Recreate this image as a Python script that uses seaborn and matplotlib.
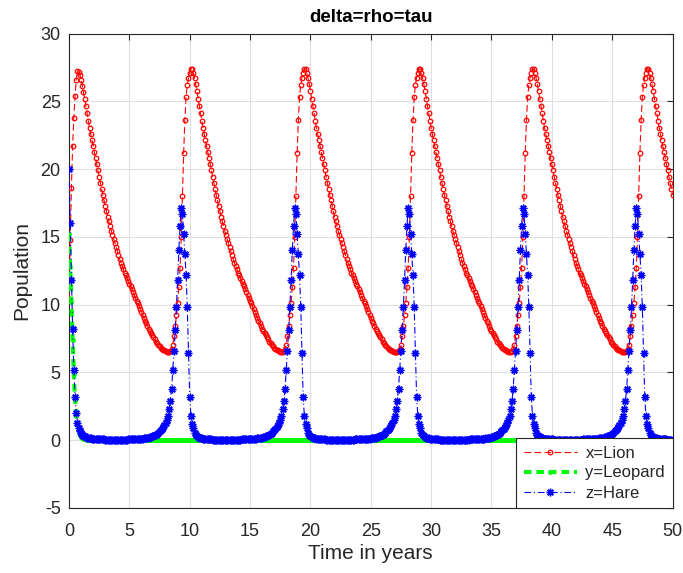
import numpy as np
import pandas as pd
import matplotlib
matplotlib.use("Agg")
import matplotlib.pyplot as plt
import seaborn as sns

# ---------------- data ----------------
time_years = np.round(np.arange(501) * 0.1, 1)  # solver output grid, 0 .. 50 years

lion = [
    # t 0.0 - 0.6
    10.3, 14.8, 18.6, 21.7, 23.8, 25.4, 26.6,
    # t 0.7 - 10.0
    27.2, 27.15, 26.95, 26.6, 26.15, 25.65, 25.2, 24.65, 24.1, 23.55,
    23.05, 22.6, 22.15, 21.7, 21.25, 20.8, 20.35, 19.9, 19.45, 19.0,
    18.55, 18.1, 17.7, 17.3, 16.9, 16.5, 16.15, 15.8, 15.45, 15.15,
    14.85, 14.55, 14.25, 13.95, 13.65, 13.35, 13.1, 12.85, 12.6, 12.35,
    12.15, 11.95, 11.75, 11.55, 11.35, 11.15, 10.9, 10.7, 10.5, 10.3,
    10.1, 9.88, 9.66, 9.45, 9.24, 9.04, 8.83, 8.62, 8.42, 8.22,
    8.05, 7.9, 7.76, 7.6, 7.44, 7.28, 7.15, 7.03, 6.92, 6.83,
    6.75, 6.68, 6.62, 6.57, 6.53, 6.5, 6.5, 6.55, 6.7,
    7.05, 7.7, 8.4, 9.2, 10.1, 11.3, 12.7, 15.0, 18.0, 21.2,
    23.6, 25.3, 26.2, 26.75, 27.1,
    # t 10.1 - 19.4
    27.4, 27.35, 27.1, 26.7, 26.25, 25.75, 25.2, 24.65, 24.1, 23.55,
    23.05, 22.6, 22.15, 21.7, 21.25, 20.8, 20.35, 19.9, 19.45, 19.0,
    18.55, 18.1, 17.7, 17.3, 16.9, 16.5, 16.15, 15.8, 15.45, 15.15,
    14.85, 14.55, 14.25, 13.95, 13.65, 13.35, 13.1, 12.85, 12.6, 12.35,
    12.15, 11.95, 11.75, 11.55, 11.35, 11.15, 10.9, 10.7, 10.5, 10.3,
    10.1, 9.88, 9.66, 9.45, 9.24, 9.04, 8.83, 8.62, 8.42, 8.22,
    8.05, 7.9, 7.76, 7.6, 7.44, 7.28, 7.15, 7.03, 6.92, 6.83,
    6.75, 6.68, 6.62, 6.57, 6.53, 6.5, 6.5, 6.55, 6.7,
    7.05, 7.7, 8.4, 9.2, 10.1, 11.3, 12.7, 15.0, 18.0, 21.2,
    23.6, 25.3, 26.2, 26.75, 27.1,
    # t 19.5 - 28.9
    27.4, 27.35, 27.1, 26.7, 26.25, 25.75, 25.2, 24.65, 24.1, 23.55,
    23.05, 22.6, 22.15, 21.7, 21.25, 20.8, 20.35, 19.9, 19.45, 19.0,
    18.55, 18.1, 17.7, 17.3, 16.9, 16.5, 16.15, 15.8, 15.45, 15.15,
    14.85, 14.55, 14.25, 13.95, 13.65, 13.35, 13.1, 12.85, 12.6, 12.35,
    12.15, 11.95, 11.75, 11.55, 11.35, 11.15, 10.9, 10.7, 10.5, 10.3,
    10.1, 9.88, 9.66, 9.45, 9.24, 9.04, 8.83, 8.62, 8.42, 8.22,
    8.05, 7.9, 7.76, 7.6, 7.44, 7.28, 7.15, 7.03, 6.92, 6.83,
    6.75, 6.68, 6.62, 6.57, 6.53, 6.5, 6.49, 6.5, 6.55, 6.7,
    7.05, 7.7, 8.4, 9.2, 10.1, 11.3, 12.7, 15.0, 18.0, 21.2,
    23.6, 25.3, 26.2, 26.75, 27.1,
    # t 29.0 - 38.3
    27.4, 27.35, 27.1, 26.7, 26.25, 25.75, 25.2, 24.65, 24.1, 23.55,
    23.05, 22.6, 22.15, 21.7, 21.25, 20.8, 20.35, 19.9, 19.45, 19.0,
    18.55, 18.1, 17.7, 17.3, 16.9, 16.5, 16.15, 15.8, 15.45, 15.15,
    14.85, 14.55, 14.25, 13.95, 13.65, 13.35, 13.1, 12.85, 12.6, 12.35,
    12.15, 11.95, 11.75, 11.55, 11.35, 11.15, 10.9, 10.7, 10.5, 10.3,
    10.1, 9.88, 9.66, 9.45, 9.24, 9.04, 8.83, 8.62, 8.42, 8.22,
    8.05, 7.9, 7.76, 7.6, 7.44, 7.28, 7.15, 7.03, 6.92, 6.83,
    6.75, 6.68, 6.62, 6.57, 6.53, 6.5, 6.5, 6.55, 6.7,
    7.05, 7.7, 8.4, 9.2, 10.1, 11.3, 12.7, 15.0, 18.0, 21.2,
    23.6, 25.3, 26.2, 26.75, 27.1,
    # t 38.4 - 47.8
    27.4, 27.35, 27.1, 26.7, 26.25, 25.75, 25.2, 24.65, 24.1, 23.55,
    23.05, 22.6, 22.15, 21.7, 21.25, 20.8, 20.35, 19.9, 19.45, 19.0,
    18.55, 18.1, 17.7, 17.3, 16.9, 16.5, 16.15, 15.8, 15.45, 15.15,
    14.85, 14.55, 14.25, 13.95, 13.65, 13.35, 13.1, 12.85, 12.6, 12.35,
    12.15, 11.95, 11.75, 11.55, 11.35, 11.15, 10.9, 10.7, 10.5, 10.3,
    10.1, 9.88, 9.66, 9.45, 9.24, 9.04, 8.83, 8.62, 8.42, 8.22,
    8.05, 7.9, 7.76, 7.6, 7.44, 7.28, 7.15, 7.03, 6.92, 6.83,
    6.75, 6.68, 6.62, 6.57, 6.53, 6.5, 6.49, 6.5, 6.55, 6.7,
    7.05, 7.7, 8.4, 9.2, 10.1, 11.3, 12.7, 15.0, 18.0, 21.2,
    23.6, 25.3, 26.2, 26.75, 27.1,
    # t 47.9 - 50.0
    27.4, 27.35, 27.1, 26.7, 26.25, 25.75, 25.2, 24.65, 24.1, 23.55,
    23.05, 22.6, 22.15, 21.7, 21.25, 20.8, 20.35, 19.9, 19.45, 19.0,
    18.55, 18.1,
]

leopard = [
    # t 0.0 - 1.9
    15.2, 12.8, 10.2, 7.4, 4.9, 3.0, 1.8, 1.1, 0.65, 0.4,
    0.25, 0.16, 0.11, 0.08, 0.06, 0.05, 0.04, 0.03, 0.03, 0.02,
    # t 2.0 - 50.0
    0.02, 0.02, 0.02, 0.02, 0.02, 0.02, 0.02, 0.02, 0.02, 0.02, 0.02, 0.02, 0.02, 0.02, 0.02, 0.02, 0.02, 0.02, 0.02, 0.02,
    0.02, 0.02, 0.02, 0.02, 0.02, 0.02, 0.02, 0.02, 0.02, 0.02, 0.02, 0.02, 0.02, 0.02, 0.02, 0.02, 0.02, 0.02, 0.02, 0.02,
    0.01, 0.01, 0.01, 0.01, 0.01, 0.01, 0.01, 0.01, 0.01, 0.01, 0.01, 0.01, 0.01, 0.01, 0.01, 0.01, 0.01, 0.01, 0.01, 0.01,
    0.01, 0.01, 0.01, 0.01, 0.01, 0.01, 0.01, 0.01, 0.01, 0.01, 0.01, 0.01, 0.01, 0.01, 0.01, 0.01, 0.01, 0.01, 0.01, 0.01,
    0.01, 0.01, 0.01, 0.01, 0.01, 0.01, 0.01, 0.01, 0.01, 0.01, 0.01, 0.01, 0.01, 0.01, 0.01, 0.01, 0.01, 0.01, 0.01, 0.01,
    0.01, 0.01, 0.01, 0.01, 0.01, 0.01, 0.01, 0.01, 0.01, 0.01, 0.01, 0.01, 0.01, 0.01, 0.01, 0.01, 0.01, 0.01, 0.01, 0.01,
    0.01, 0.01, 0.01, 0.01, 0.01, 0.01, 0.01, 0.01, 0.01, 0.01, 0.01, 0.01, 0.01, 0.01, 0.01, 0.01, 0.01, 0.01, 0.01, 0.01,
    0.0, 0.0, 0.0, 0.0, 0.0, 0.0, 0.0, 0.0, 0.0, 0.0, 0.0, 0.0, 0.0, 0.0, 0.0, 0.0, 0.0, 0.0, 0.0, 0.0,
    0.0, 0.0, 0.0, 0.0, 0.0, 0.0, 0.0, 0.0, 0.0, 0.0, 0.0, 0.0, 0.0, 0.0, 0.0, 0.0, 0.0, 0.0, 0.0, 0.0,
    0.0, 0.0, 0.0, 0.0, 0.0, 0.0, 0.0, 0.0, 0.0, 0.0, 0.0, 0.0, 0.0, 0.0, 0.0, 0.0, 0.0, 0.0, 0.0, 0.0,
    0.0, 0.0, 0.0, 0.0, 0.0, 0.0, 0.0, 0.0, 0.0, 0.0, 0.0, 0.0, 0.0, 0.0, 0.0, 0.0, 0.0, 0.0, 0.0, 0.0,
    0.0, 0.0, 0.0, 0.0, 0.0, 0.0, 0.0, 0.0, 0.0, 0.0, 0.0, 0.0, 0.0, 0.0, 0.0, 0.0, 0.0, 0.0, 0.0, 0.0,
    0.0, 0.0, 0.0, 0.0, 0.0, 0.0, 0.0, 0.0, 0.0, 0.0, 0.0, 0.0, 0.0, 0.0, 0.0, 0.0, 0.0, 0.0, 0.0, 0.0,
    0.0, 0.0, 0.0, 0.0, 0.0, 0.0, 0.0, 0.0, 0.0, 0.0, 0.0, 0.0, 0.0, 0.0, 0.0, 0.0, 0.0, 0.0, 0.0, 0.0,
    0.0, 0.0, 0.0, 0.0, 0.0, 0.0, 0.0, 0.0, 0.0, 0.0, 0.0, 0.0, 0.0, 0.0, 0.0, 0.0, 0.0, 0.0, 0.0, 0.0,
    0.0, 0.0, 0.0, 0.0, 0.0, 0.0, 0.0, 0.0, 0.0, 0.0, 0.0, 0.0, 0.0, 0.0, 0.0, 0.0, 0.0, 0.0, 0.0, 0.0,
    0.0, 0.0, 0.0, 0.0, 0.0, 0.0, 0.0, 0.0, 0.0, 0.0, 0.0, 0.0, 0.0, 0.0, 0.0, 0.0, 0.0, 0.0, 0.0, 0.0,
    0.0, 0.0, 0.0, 0.0, 0.0, 0.0, 0.0, 0.0, 0.0, 0.0, 0.0, 0.0, 0.0, 0.0, 0.0, 0.0, 0.0, 0.0, 0.0, 0.0,
    0.0, 0.0, 0.0, 0.0, 0.0, 0.0, 0.0, 0.0, 0.0, 0.0, 0.0, 0.0, 0.0, 0.0, 0.0, 0.0, 0.0, 0.0, 0.0, 0.0,
    0.0, 0.0, 0.0, 0.0, 0.0, 0.0, 0.0, 0.0, 0.0, 0.0, 0.0, 0.0, 0.0, 0.0, 0.0, 0.0, 0.0, 0.0, 0.0, 0.0,
    0.0, 0.0, 0.0, 0.0, 0.0, 0.0, 0.0, 0.0, 0.0, 0.0, 0.0, 0.0, 0.0, 0.0, 0.0, 0.0, 0.0, 0.0, 0.0, 0.0,
    0.0, 0.0, 0.0, 0.0, 0.0, 0.0, 0.0, 0.0, 0.0, 0.0, 0.0, 0.0, 0.0, 0.0, 0.0, 0.0, 0.0, 0.0, 0.0, 0.0,
    0.0, 0.0, 0.0, 0.0, 0.0, 0.0, 0.0, 0.0, 0.0, 0.0, 0.0, 0.0, 0.0, 0.0, 0.0, 0.0, 0.0, 0.0, 0.0, 0.0,
    0.0, 0.0, 0.0, 0.0, 0.0, 0.0, 0.0, 0.0, 0.0, 0.0, 0.0, 0.0, 0.0, 0.0, 0.0, 0.0, 0.0, 0.0, 0.0, 0.0,
    0.0,
]

hare = [
    # t 0.0 - 0.6
    20.0, 16.0, 11.8, 8.2, 5.2, 3.2, 2.0,
    # t 0.7 - 10.0
    1.3, 0.9, 0.65, 0.5, 0.4, 0.33, 0.28, 0.24, 0.2, 0.17,
    0.15, 0.13, 0.12, 0.11, 0.1, 0.09, 0.08, 0.08, 0.07, 0.07,
    0.06, 0.06, 0.06, 0.05, 0.05, 0.05, 0.05, 0.05, 0.05, 0.05,
    0.05, 0.05, 0.05, 0.05, 0.05, 0.05, 0.05, 0.05, 0.05, 0.05,
    0.05, 0.05, 0.06, 0.06, 0.06, 0.06, 0.07, 0.07, 0.08, 0.08,
    0.09, 0.1, 0.1, 0.11, 0.12, 0.13, 0.15, 0.16, 0.18, 0.2,
    0.22, 0.25, 0.28, 0.32, 0.36, 0.4, 0.45, 0.55, 0.65, 0.75,
    0.85, 0.95, 1.1, 1.3, 1.5, 1.8, 2.3, 2.9, 3.8, 5.2,
    6.6, 8.1, 9.8, 11.8, 14.0, 15.8, 17.1, 16.7, 15.2, 13.7,
    12.2, 9.8, 6.4, 3.2,
    # t 10.1 - 19.4
    1.8, 1.2, 0.9, 0.55, 0.4, 0.3, 0.25, 0.2, 0.17, 0.14,
    0.12, 0.1, 0.09, 0.08, 0.07, 0.07, 0.06, 0.06, 0.05, 0.05,
    0.05, 0.05, 0.05, 0.05, 0.05, 0.05, 0.05, 0.05, 0.05, 0.05,
    0.05, 0.05, 0.05, 0.05, 0.05, 0.05, 0.05, 0.05, 0.05, 0.05,
    0.05, 0.05, 0.06, 0.06, 0.06, 0.06, 0.07, 0.07, 0.08, 0.08,
    0.09, 0.1, 0.1, 0.11, 0.12, 0.13, 0.15, 0.16, 0.18, 0.2,
    0.22, 0.25, 0.28, 0.32, 0.36, 0.4, 0.45, 0.55, 0.65, 0.75,
    0.85, 0.95, 1.1, 1.3, 1.5, 1.8, 2.3, 2.9, 3.8, 5.2,
    6.6, 8.1, 9.8, 11.8, 14.0, 15.8, 17.1, 16.7, 15.2, 13.7,
    12.2, 9.8, 6.4, 3.2,
    # t 19.5 - 28.9
    1.8, 1.2, 0.9, 0.55, 0.4, 0.3, 0.25, 0.2, 0.17, 0.14,
    0.12, 0.1, 0.09, 0.08, 0.07, 0.07, 0.06, 0.06, 0.05, 0.05,
    0.05, 0.05, 0.05, 0.05, 0.05, 0.05, 0.05, 0.05, 0.05, 0.05,
    0.05, 0.05, 0.05, 0.05, 0.05, 0.05, 0.05, 0.05, 0.05, 0.05,
    0.05, 0.05, 0.06, 0.06, 0.06, 0.06, 0.07, 0.07, 0.08, 0.08,
    0.09, 0.1, 0.1, 0.11, 0.12, 0.13, 0.15, 0.16, 0.18, 0.2,
    0.22, 0.25, 0.28, 0.32, 0.36, 0.4, 0.45, 0.55, 0.65, 0.75,
    0.85, 0.95, 1.1, 1.3, 1.5, 1.8, 2.3, 2.9, 3.8, 5.2,
    6.6, 8.1, 9.8, 11.8, 14.0, 15.8, 17.1, 16.7, 15.2, 13.7,
    12.2, 9.8, 6.4, 3.2, 1.8,
    # t 29.0 - 38.3
    1.2, 0.9, 0.55, 0.4, 0.3, 0.25, 0.2, 0.17, 0.14, 0.12,
    0.1, 0.09, 0.08, 0.07, 0.07, 0.06, 0.06, 0.05, 0.05, 0.05,
    0.05, 0.05, 0.05, 0.05, 0.05, 0.05, 0.05, 0.05, 0.05, 0.05,
    0.05, 0.05, 0.05, 0.05, 0.05, 0.05, 0.05, 0.05, 0.05, 0.05,
    0.05, 0.05, 0.06, 0.06, 0.06, 0.06, 0.07, 0.07, 0.08, 0.08,
    0.09, 0.1, 0.1, 0.11, 0.12, 0.13, 0.15, 0.16, 0.18, 0.2,
    0.22, 0.25, 0.28, 0.32, 0.36, 0.4, 0.45, 0.55, 0.65, 0.75,
    0.85, 0.95, 1.1, 1.3, 1.5, 1.8, 2.3, 2.9, 3.8, 5.2,
    6.6, 8.1, 9.8, 11.8, 14.0, 15.8, 17.1, 16.7, 15.2, 13.7,
    12.2, 9.8, 6.4, 3.2,
    # t 38.4 - 47.8
    1.8, 1.2, 0.9, 0.55, 0.4, 0.3, 0.25, 0.2, 0.17, 0.14,
    0.12, 0.1, 0.09, 0.08, 0.07, 0.07, 0.06, 0.06, 0.05, 0.05,
    0.05, 0.05, 0.05, 0.05, 0.05, 0.05, 0.05, 0.05, 0.05, 0.05,
    0.05, 0.05, 0.05, 0.05, 0.05, 0.05, 0.05, 0.05, 0.05, 0.05,
    0.05, 0.05, 0.06, 0.06, 0.06, 0.06, 0.07, 0.07, 0.08, 0.08,
    0.09, 0.1, 0.1, 0.11, 0.12, 0.13, 0.15, 0.16, 0.18, 0.2,
    0.22, 0.25, 0.28, 0.32, 0.36, 0.4, 0.45, 0.55, 0.65, 0.75,
    0.85, 0.95, 1.1, 1.3, 1.5, 1.8, 2.3, 2.9, 3.8, 5.2,
    6.6, 8.1, 9.8, 11.8, 14.0, 15.8, 17.1, 16.7, 15.2, 13.7,
    12.2, 9.8, 6.4, 3.2, 1.8,
    # t 47.9 - 50.0
    1.2, 0.9, 0.55, 0.4, 0.3, 0.25, 0.2, 0.17, 0.14, 0.12,
    0.1, 0.09, 0.08, 0.07, 0.07, 0.06, 0.06, 0.05, 0.05, 0.05,
    0.05, 0.05,
]

series_labels = ["x=Lion", "y=Leopard", "z=Hare"]
x_ticks = [0, 5, 10, 15, 20, 25, 30, 35, 40, 45, 50]
y_ticks = [-5, 0, 5, 10, 15, 20, 25, 30]
title_text = "delta=rho=tau"
x_label = "Time in years"
y_label = "Population"

df = pd.DataFrame({"t": time_years, "lion": lion, "leopard": leopard, "hare": hare})

# ---------------- style ----------------
sns.set_theme(style="white")
plt.rcParams["font.family"] = ["Liberation Sans", "DejaVu Sans"]
plt.rcParams["axes.unicode_minus"] = False

fig = plt.figure(figsize=(6.83, 5.73), dpi=100)
ax = fig.add_axes([69 / 683, 1 - 508 / 573, (672.5 - 69) / 683, (508 - 33.5) / 573])

sns.lineplot(data=df, x="t", y="lion", ax=ax, color=(1, 0, 0), linestyle=(0, (6, 3)),
             linewidth=0.8, marker="o", markersize=3.3, markerfacecolor="none",
             markeredgecolor=(1, 0, 0), markeredgewidth=0.9, label=series_labels[0],
             estimator=None, sort=False, zorder=3)
sns.lineplot(data=df, x="t", y="leopard", ax=ax, color=(0, 1, 0), linestyle=(0, (1.8, 1.2)),
             linewidth=3.0, marker=".", markersize=6, markerfacecolor=(0, 1, 0),
             markeredgecolor=(0, 1, 0), markeredgewidth=0.5, label=series_labels[1],
             estimator=None, sort=False, zorder=4)
sns.lineplot(data=df, x="t", y="hare", ax=ax, color=(0, 0, 1), linestyle=(0, (6, 2.5, 1, 2.5)),
             linewidth=0.8, marker=(8, 2, 0), markersize=5.5, markerfacecolor=(0, 0, 1),
             markeredgecolor=(0, 0, 1), markeredgewidth=1.0, label=series_labels[2],
             estimator=None, sort=False, zorder=5)

ax.set_xlim(0, 50)
ax.set_ylim(-5, 30)
ax.set_xticks(x_ticks)
ax.set_yticks(y_ticks)
ax.grid(True, color="#e0e0e0", linewidth=0.8)
ax.set_axisbelow(True)
for s in ax.spines.values():
    s.set_color("#262626")
    s.set_linewidth(0.8)
ax.tick_params(direction="in", length=4, width=0.8, top=True, right=True,
               color="#262626", labelcolor="#262626", labelsize=13)
ax.tick_params(axis="x", pad=11)
ax.tick_params(axis="y", pad=6)

ax.set_title(title_text, fontsize=13.5, fontweight="bold", pad=8, color="black")
ax.set_xlabel(x_label, fontsize=15, color="#262626", labelpad=3)
ax.set_ylabel(y_label, fontsize=15, color="#262626", labelpad=7)

leg = ax.legend(loc="lower right", borderaxespad=0, fontsize=12, frameon=True,
                fancybox=False, edgecolor="#262626", framealpha=1, handlelength=3.2,
                labelspacing=0.3, borderpad=0.45, handletextpad=0.5)
leg.get_frame().set_linewidth(0.8)

fig.savefig("out.png", dpi=100)
